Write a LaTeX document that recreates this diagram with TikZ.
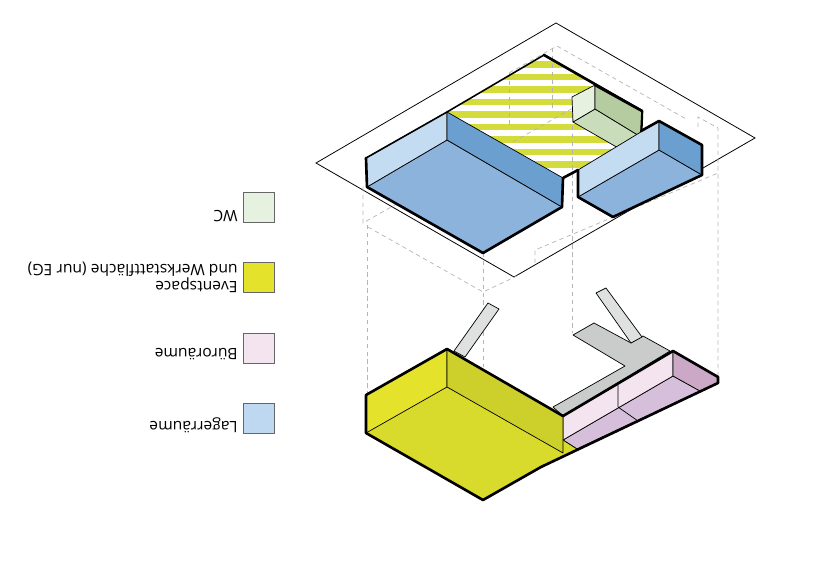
\documentclass[tikz,border=0pt]{standalone}
\usepackage{fontspec}
\setmainfont{Open Sans}
\usetikzlibrary{calc}
\definecolor{blfloor}{HTML}{8CB3DC}
\definecolor{bldark}{HTML}{6A9FCF}
\definecolor{bllight}{HTML}{C4DCF2}
\definecolor{blswatch}{HTML}{BDD8F0}
\definecolor{yefloor}{HTML}{D9DB2C}
\definecolor{yeleft}{HTML}{E5E22B}
\definecolor{yeright}{HTML}{CDCF2A}
\definecolor{stripec}{HTML}{D3DC3A}
\definecolor{wcleft}{HTML}{E6F1DF}
\definecolor{wcright}{HTML}{B5CBA0}
\definecolor{wcfloor}{HTML}{C9DDBB}
\definecolor{pkwall}{HTML}{F3E4F0}
\definecolor{pkfloor}{HTML}{D5BFDA}
\definecolor{pkright}{HTML}{CBA8C6}
\definecolor{corrc}{HTML}{C9CCCB}
\definecolor{strutc}{HTML}{DFE1E0}
\definecolor{dashc}{HTML}{B4B4B4}
\tikzset{
  site/.style={draw=black, line width=0.45pt},
  guide/.style={draw=dashc, line width=0.4pt, dash pattern=on 2.5pt off 2pt},
  face/.style={draw=black, line width=0.4pt, line join=round},
  heavy/.style={draw=black, line width=1.5pt, line join=round, line cap=round},
  swatch/.style={draw=black!60, line width=0.4pt, minimum width=0.62cm, minimum height=0.6cm, inner sep=0pt},
  lbl/.style={font=\fontsize{8.9}{8.6}\selectfont, rotate=180, anchor=west, align=left, inner sep=0pt, text=black},
}
\begin{document}
\begin{tikzpicture}[x=0.02cm, y=-0.02cm]
\useasboundingbox (0,0) rectangle (817,570);

% ---------------- site outline ----------------
\draw[site] (556,23) -- (755,138) -- (514,277) -- (316,163) -- cycle;

% ---------------- eventspace, upper floor ----------------
\begin{scope}
  \clip (447,112) -- (544,55) -- (595,85) -- (572,97) -- (573,122) -- (620,149) -- (563,178) -- cycle;
  \foreach \y in {61.5,74,86.5,99,111.5,124,136.5,149,161.5} {
    \fill[stripec] (440,\y) rectangle (630,\y+6.5);
  }
\end{scope}

% ---------------- guides ----------------
\draw[guide] (509,73) -- (557,46) -- (688,120);
\draw[guide] (698,127) -- (698,117) -- (718,128) -- (718,377);
\draw[guide] (552,48) -- (552,110);
\draw[guide] (509,73) -- (509,125);
\draw[guide] (513,142) -- (573,108);
\draw[guide] (572,110) -- (572,333);
\draw[guide] (363,187) -- (363,223) -- (400,202);
\draw[guide] (368,227) -- (483,292) -- (517,276);
\draw[guide] (367,225) -- (367,395);
\draw[guide] (483,253) -- (483,367);
\draw[guide] (535,263) -- (535,250) -- (718,173);

\draw[heavy] (544,55) -- (642,111) -- (641,137);
\draw[heavy, line width=0.9pt] (447,112) -- (544,55);

% ---------------- WC ----------------
\draw[face, fill=wcfloor] (573,122) -- (595,109) -- (641,137) -- (620,149) -- cycle;
\draw[face, fill=wcleft] (572,97) -- (595,85) -- (595,109) -- (573,122) -- cycle;
\draw[face, fill=wcright] (595,85) -- (642,111) -- (641,137) -- (595,109) -- cycle;
\draw[heavy] (595,85) -- (642,111);
\draw[heavy, line width=0.9pt] (642,111) -- (641,131);

% ---------------- storage, left ----------------
\draw[face, fill=blfloor] (367,187) -- (447,140) -- (562,207) -- (483,253) -- cycle;
\draw[face, fill=bllight] (366,158) -- (447,112) -- (447,140) -- (367,187) -- cycle;
\draw[face, fill=bldark] (447,112) -- (563,178) -- (562,207) -- (447,140) -- cycle;
\draw[heavy, line width=0.9pt] (447,112) -- (366,158);
\draw[heavy] (366,158) -- (367,187) -- (483,253) -- (562,207) -- (563,178) -- (578,170);

% ---------------- storage, right ----------------
\draw[face, fill=blfloor] (578,197) -- (659,150) -- (702,175) -- (613,217) -- cycle;
\draw[face, fill=bllight] (578,170) -- (659,121) -- (659,150) -- (578,197) -- cycle;
\draw[face, fill=bldark] (659,121) -- (702,145) -- (702,175) -- (659,150) -- cycle;
\draw[heavy] (641,131) -- (659,121) -- (702,145) -- (702,175) -- (613,217) -- (578,197) -- (578,170);

% ---------------- corridor, lower floor ----------------
\draw[face, fill=strutc] (488,303) -- (499,309) -- (465,357) -- (454,351) -- cycle;
\draw[face, fill=corrc] (553,407) -- (625,366) -- (573,335) -- (594,323) -- (631,343) -- (643,336) -- (670,351) -- (563,416) -- cycle;
\draw[face, fill=strutc] (596,293) -- (606,288) -- (642,337) -- (631,343) -- cycle;

% ---------------- offices ----------------
\draw[face, fill=pkfloor] (563,440) -- (673,376) -- (700,391) -- (577,449) -- cycle;
\draw[face, fill=pkwall] (563,416) -- (673,351) -- (673,376) -- (563,440) -- cycle;
\draw[face, fill=pkright] (673,351) -- (718,377) -- (718,383) -- (700,391) -- (673,376) -- cycle;
\draw[face] (618,385) -- (618,407) -- (638,421);

% ---------------- eventspace, lower floor ----------------
\draw[face, draw=none, fill=yefloor] (366,433) -- (447,387) -- (563,440) -- (577,449) -- (541,467) -- (483,500) -- cycle;
\draw[face] (563,440) -- (577,449);
\draw[face, fill=yeleft] (366,395) -- (447,349) -- (447,387) -- (366,433) -- cycle;
\draw[face, fill=yeright] (447,349) -- (563,416) -- (563,453) -- (447,387) -- cycle;
\draw[heavy] (718,377) -- (673,351) -- (563,416) -- (447,349) -- (366,395) -- (366,433) -- (483,500) -- (541,467) -- (718,383) -- cycle;

% ---------------- legend ----------------
\node[swatch, fill=wcleft] (swwc) at (259,207) {};
\node[swatch, fill=yeleft] (swev) at (259,277) {};
\node[swatch, fill=pkwall] (swbu) at (259,348) {};
\node[swatch, fill=blswatch] (swla) at (259,418) {};
\node[lbl] (lblwc) at (238,216) {WC};
\node[lbl] (lblev) at (238,277.5) {Eventspace\\und Werkstattfläche (nur EG)};
\node[lbl] (lblbu) at (238,354) {Büroräume};
\node[lbl] (lblla) at (238,425) {Lagerräume};

\end{tikzpicture}
\end{document}
